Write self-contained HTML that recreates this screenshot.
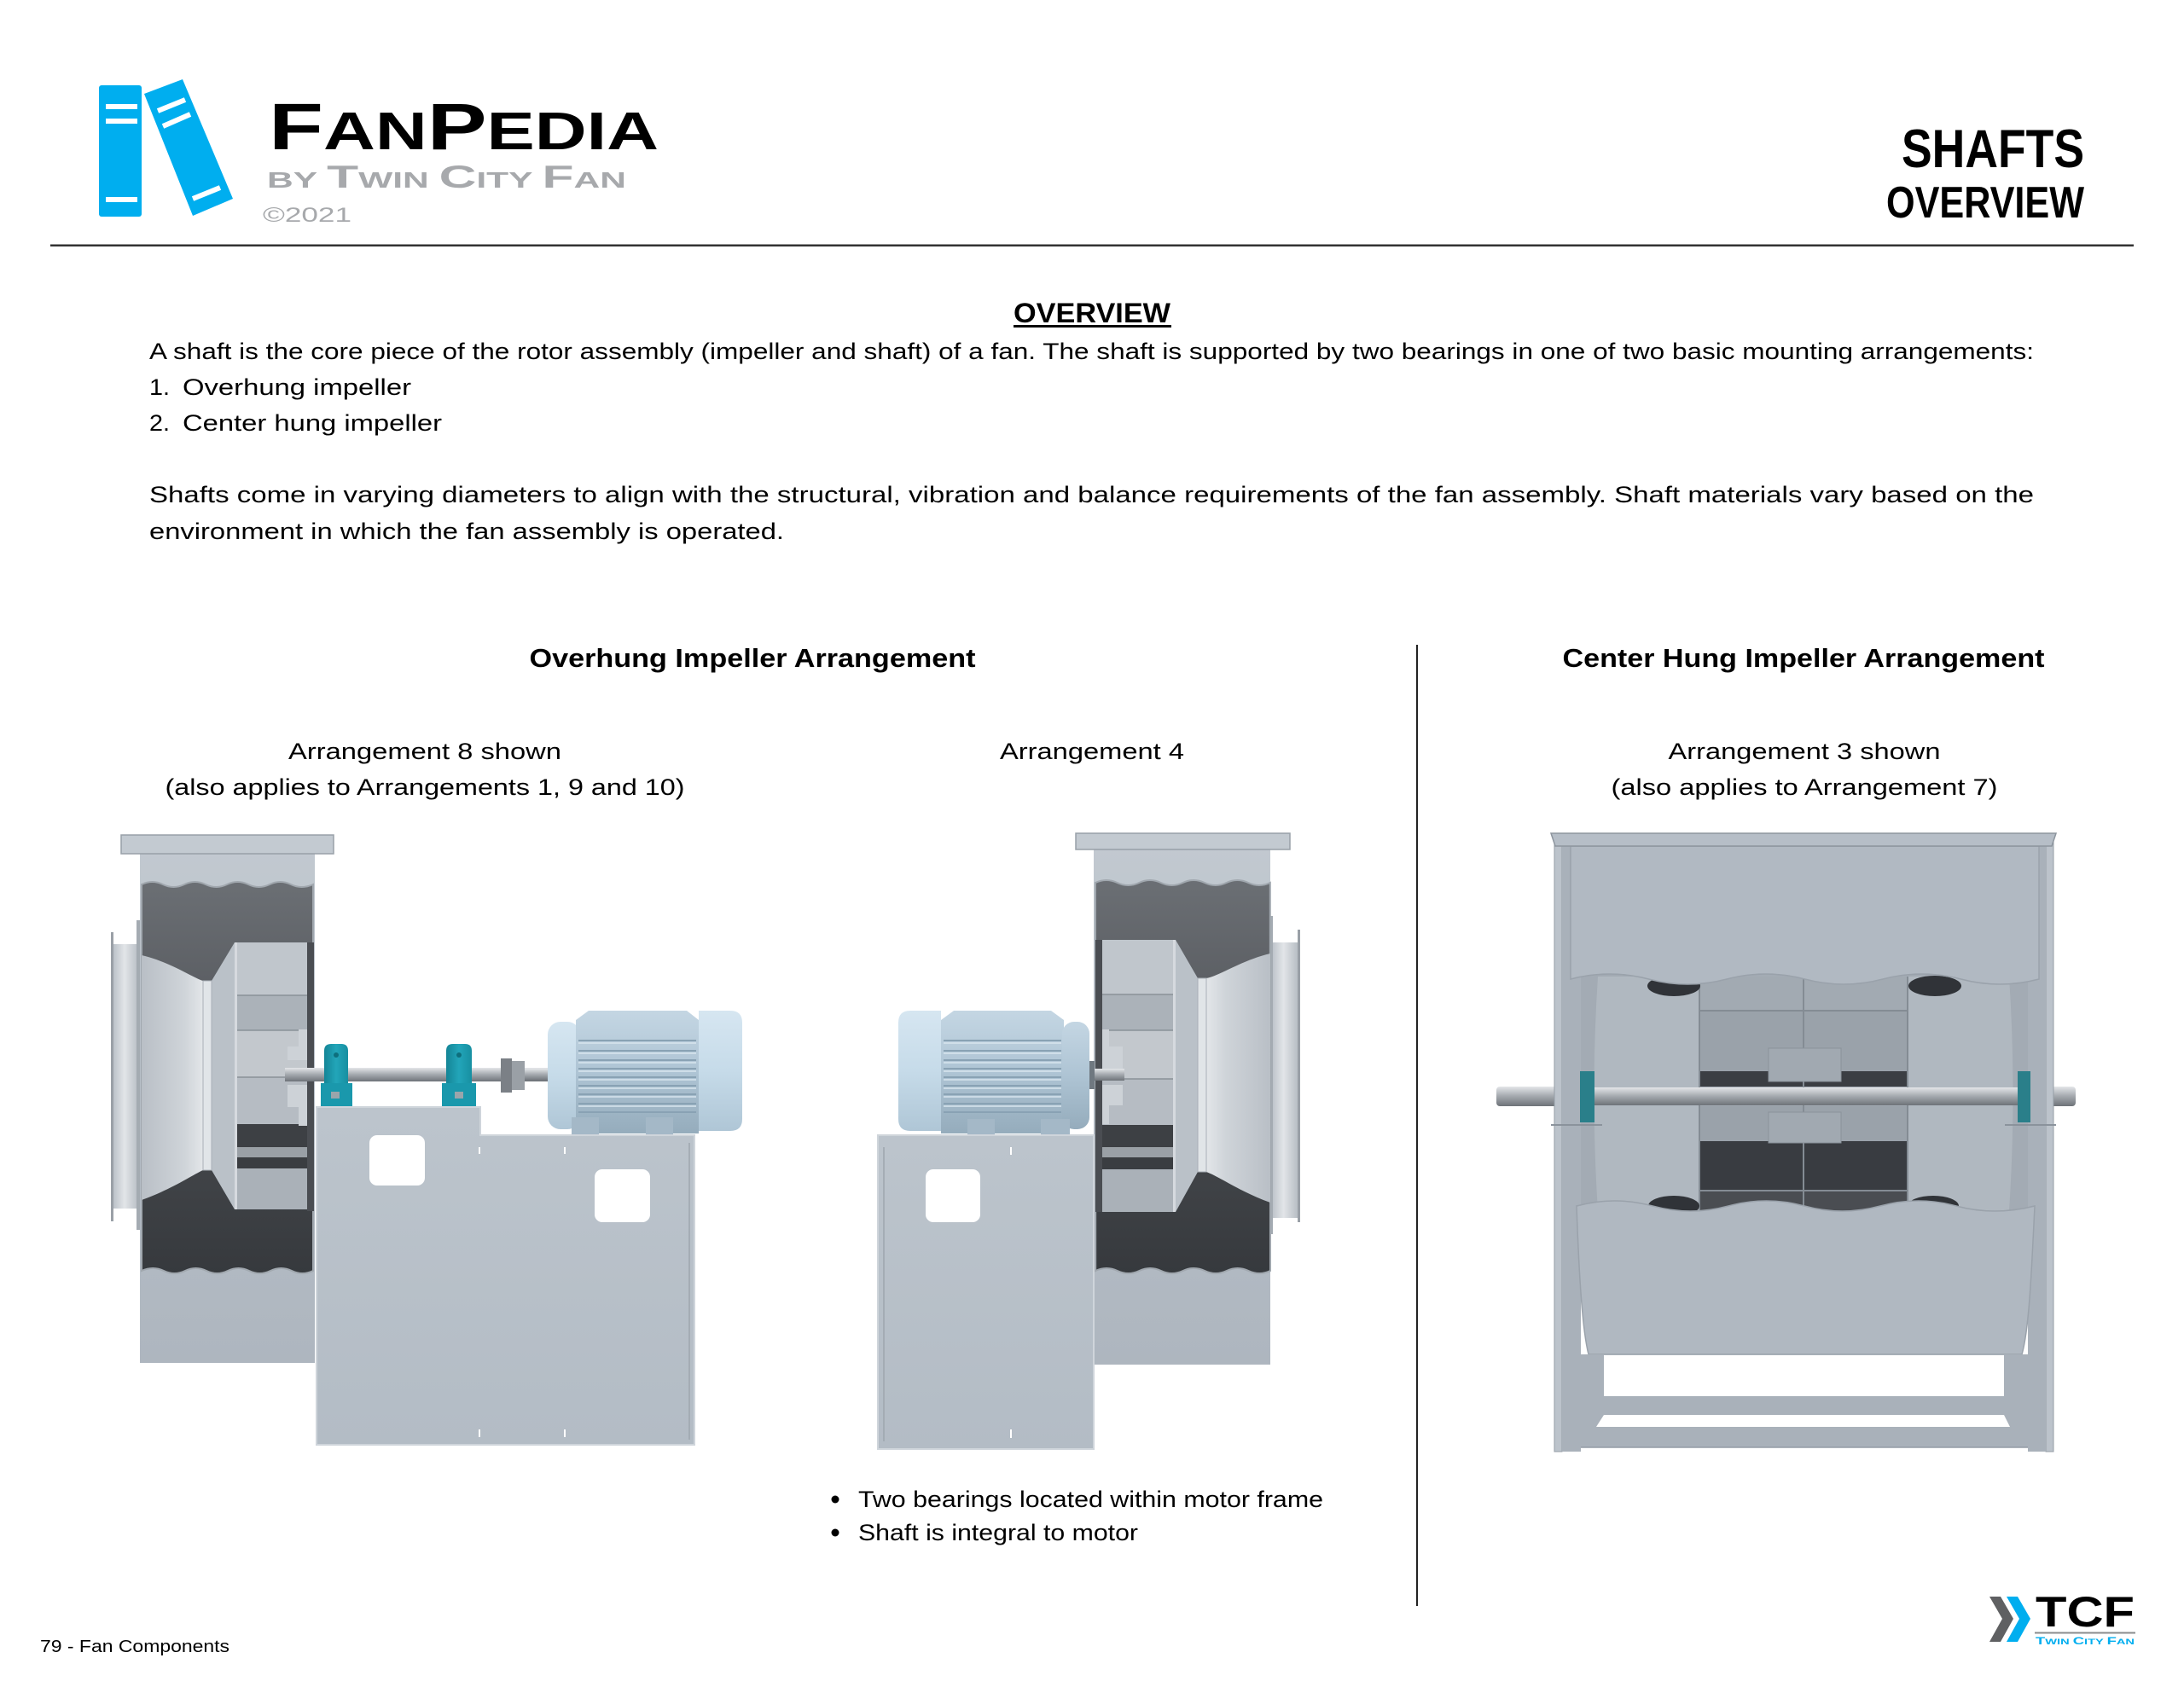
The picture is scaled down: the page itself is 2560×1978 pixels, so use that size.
<!DOCTYPE html>
<html><head><meta charset="utf-8">
<style>
html,body{margin:0;padding:0;background:#fff;}
svg{display:block;}
text{font-family:"Liberation Sans",Arial,sans-serif;}
</style></head>
<body>
<svg width="2560" height="1978" viewBox="0 0 2560 1978" xmlns="http://www.w3.org/2000/svg">
<defs>
 <linearGradient id="gHous" x1="0" y1="0" x2="0" y2="1">
  <stop offset="0" stop-color="#c2c9d0"/><stop offset="0.5" stop-color="#b6bec7"/><stop offset="1" stop-color="#aeb6bf"/>
 </linearGradient>
 <linearGradient id="gDark" x1="0" y1="0" x2="0" y2="1">
  <stop offset="0" stop-color="#6b6f74"/><stop offset="0.3" stop-color="#5a5d62"/><stop offset="0.65" stop-color="#44474b"/><stop offset="1" stop-color="#36393d"/>
 </linearGradient>
 <linearGradient id="gConeL" x1="0" y1="0" x2="1" y2="0">
  <stop offset="0" stop-color="#b9bfc6"/><stop offset="0.7" stop-color="#cfd4d9"/><stop offset="1" stop-color="#e3e6e9"/>
 </linearGradient>
 <linearGradient id="gConeR" x1="1" y1="0" x2="0" y2="0">
  <stop offset="0" stop-color="#b9bfc6"/><stop offset="0.7" stop-color="#cfd4d9"/><stop offset="1" stop-color="#e3e6e9"/>
 </linearGradient>
 <linearGradient id="gCyl" x1="0" y1="0" x2="1" y2="0">
  <stop offset="0" stop-color="#bcc2c9"/><stop offset="0.45" stop-color="#e2e5e8"/><stop offset="1" stop-color="#b8bec5"/>
 </linearGradient>
 <linearGradient id="gShaft" x1="0" y1="0" x2="0" y2="1">
  <stop offset="0" stop-color="#e4e6e9"/><stop offset="0.45" stop-color="#a9aeb3"/><stop offset="1" stop-color="#6e7379"/>
 </linearGradient>
 <linearGradient id="gMotor" x1="0" y1="0" x2="0" y2="1">
  <stop offset="0" stop-color="#c4d6e3"/><stop offset="0.5" stop-color="#aec4d4"/><stop offset="1" stop-color="#95acbc"/>
 </linearGradient>
 <linearGradient id="gCover" x1="0" y1="0" x2="0" y2="1">
  <stop offset="0" stop-color="#d6e6f1"/><stop offset="0.5" stop-color="#c6dbe9"/><stop offset="1" stop-color="#afc6d6"/>
 </linearGradient>
 <linearGradient id="gPed" x1="0" y1="0" x2="0" y2="1">
  <stop offset="0" stop-color="#bcc4cc"/><stop offset="1" stop-color="#b3bcc5"/>
 </linearGradient>
 <linearGradient id="gTeal" x1="0" y1="0" x2="1" y2="0">
  <stop offset="0" stop-color="#148596"/><stop offset="0.5" stop-color="#22a5b9"/><stop offset="1" stop-color="#178fa1"/>
 </linearGradient>
</defs>

<!-- ===== HEADER ===== -->
<rect x="116" y="100" width="50" height="154" rx="3" fill="#00aeef"/>
<rect x="124" y="122" width="37" height="6" fill="#fff"/>
<rect x="124" y="139" width="37" height="6" fill="#fff"/>
<rect x="124" y="231" width="37" height="6" fill="#fff"/>
<polygon points="169,110 214,93 273,233 226,253" fill="#00aeef"/>
<line x1="185" y1="130" x2="217" y2="117" stroke="#fff" stroke-width="6"/>
<line x1="191" y1="148" x2="223" y2="134" stroke="#fff" stroke-width="6"/>
<line x1="226" y1="233" x2="258" y2="220" stroke="#fff" stroke-width="6"/>

<text x="315" y="175" font-weight="bold" fill="#000" textLength="457" lengthAdjust="spacingAndGlyphs"><tspan font-size="77">F</tspan><tspan font-size="62">AN</tspan><tspan font-size="77">P</tspan><tspan font-size="62">EDIA</tspan></text>
<text x="313" y="220" font-weight="bold" fill="#a7a9ac" textLength="421" lengthAdjust="spacingAndGlyphs"><tspan font-size="26">BY </tspan><tspan font-size="37">T</tspan><tspan font-size="26">WIN </tspan><tspan font-size="37">C</tspan><tspan font-size="26">ITY </tspan><tspan font-size="37">F</tspan><tspan font-size="26">AN</tspan></text>
<text x="308" y="260" font-size="24" fill="#a7a9ac" textLength="104" lengthAdjust="spacingAndGlyphs">©2021</text>

<text x="2443" y="196" font-size="63" font-weight="bold" text-anchor="end" textLength="214" lengthAdjust="spacingAndGlyphs">SHAFTS</text>
<text x="2443" y="255" font-size="52" font-weight="bold" text-anchor="end" textLength="232" lengthAdjust="spacingAndGlyphs">OVERVIEW</text>

<rect x="59" y="286.5" width="2442" height="2.5" fill="#333"/>

<!-- ===== OVERVIEW TEXT ===== -->
<text x="1188" y="378" font-size="32" font-weight="bold" textLength="184" lengthAdjust="spacingAndGlyphs">OVERVIEW</text>
<rect x="1188" y="381" width="185" height="3" fill="#000"/>

<text x="175" y="421" font-size="27" textLength="2209" lengthAdjust="spacingAndGlyphs">A shaft is the core piece of the rotor assembly (impeller and shaft) of a fan. The shaft is supported by two bearings in one of two basic mounting arrangements:</text>
<text x="175" y="463" font-size="27" textLength="24" lengthAdjust="spacingAndGlyphs">1.</text>
<text x="214" y="463" font-size="27" textLength="268" lengthAdjust="spacingAndGlyphs">Overhung impeller</text>
<text x="175" y="505" font-size="27" textLength="24" lengthAdjust="spacingAndGlyphs">2.</text>
<text x="214" y="505" font-size="27" textLength="304" lengthAdjust="spacingAndGlyphs">Center hung impeller</text>
<text x="175" y="589" font-size="27" textLength="2209" lengthAdjust="spacingAndGlyphs">Shafts come in varying diameters to align with the structural, vibration and balance requirements of the fan assembly. Shaft materials vary based on the</text>
<text x="175" y="632" font-size="27" textLength="744" lengthAdjust="spacingAndGlyphs">environment in which the fan assembly is operated.</text>

<!-- ===== SECTION HEADINGS ===== -->
<text x="882" y="782" font-size="31" font-weight="bold" text-anchor="middle" textLength="523" lengthAdjust="spacingAndGlyphs">Overhung Impeller Arrangement</text>
<text x="2114" y="782" font-size="31" font-weight="bold" text-anchor="middle" textLength="565" lengthAdjust="spacingAndGlyphs">Center Hung Impeller Arrangement</text>

<text x="498" y="890" font-size="27" text-anchor="middle" textLength="320" lengthAdjust="spacingAndGlyphs">Arrangement 8 shown</text>
<text x="498" y="932" font-size="27" text-anchor="middle" textLength="609" lengthAdjust="spacingAndGlyphs">(also applies to Arrangements 1, 9 and 10)</text>
<text x="1280" y="890" font-size="27" text-anchor="middle" textLength="216" lengthAdjust="spacingAndGlyphs">Arrangement 4</text>
<text x="2115" y="890" font-size="27" text-anchor="middle" textLength="319" lengthAdjust="spacingAndGlyphs">Arrangement 3 shown</text>
<text x="2115" y="932" font-size="27" text-anchor="middle" textLength="453" lengthAdjust="spacingAndGlyphs">(also applies to Arrangement 7)</text>

<rect x="1660" y="756" width="2" height="1127" fill="#222"/>

<!-- ===== LEFT ILLUSTRATION (Arr 8) ===== -->
<g>
 <rect x="130" y="1093" width="3" height="339" fill="#9aa0a7"/>
 <rect x="133" y="1107" width="29" height="310" fill="url(#gCyl)"/>
 <rect x="160" y="1079" width="5" height="363" fill="#a4abb2"/>
 <rect x="164" y="991" width="205" height="607" fill="url(#gHous)"/>
 <rect x="142" y="979" width="249" height="22" fill="#c3cad1" stroke="#98a0a8" stroke-width="1.5"/>
 <path d="M166,1037 q12.5,-6 25,0 t25,0 t25,0 t25,0 t25,0 t25,0 t25,0 t26,0 L367,1490 q-12.5,6 -25,0 t-25,0 t-25,0 t-25,0 t-25,0 t-25,0 t-25,0 t-26,0 Z" fill="url(#gDark)" stroke="#a0a7ae" stroke-width="2"/>
 <!-- cone -->
 <path d="M166,1120 C200,1128 225,1146 238,1150 L238,1372 C225,1378 200,1395 166,1407 Z" fill="url(#gConeL)"/>
 <path d="M248,1150 L275,1105 L275,1418 L248,1372 Z" fill="#bac1c8"/>
 <rect x="238" y="1150" width="10" height="222" fill="#e1e5e8" stroke="#a9b0b7" stroke-width="1"/>
 <!-- impeller -->
 <rect x="360" y="1105" width="8" height="315" fill="#4a4d52"/>
 <rect x="275" y="1105" width="85" height="62" fill="#c0c6cc"/>
 <rect x="275" y="1167" width="85" height="41" fill="#abb2b9"/>
 <rect x="275" y="1208" width="85" height="55" fill="#c3c8cd"/>
 <rect x="275" y="1263" width="85" height="55" fill="#b6bcc3"/>
 <rect x="275" y="1318" width="85" height="27" fill="#3d4044"/>
 <rect x="275" y="1345" width="85" height="12" fill="#9aa0a6"/>
 <rect x="275" y="1357" width="85" height="13" fill="#3a3d41"/>
 <rect x="275" y="1370" width="85" height="48" fill="#aab1b8"/>
 <g stroke="#8a9198" stroke-width="1.5">
  <line x1="275" y1="1167" x2="360" y2="1167"/><line x1="275" y1="1208" x2="360" y2="1208"/>
  <line x1="275" y1="1263" x2="360" y2="1263"/>
 </g>
 <rect x="275" y="1105" width="3" height="313" fill="#d6dadf"/>
 <rect x="350" y="1207" width="10" height="20" fill="#cdd2d7"/>
 <rect x="337" y="1227" width="23" height="16" fill="#cdd2d7"/>
 <rect x="337" y="1272" width="23" height="26" fill="#cdd2d7"/>
 <rect x="350" y="1298" width="10" height="22" fill="#cdd2d7"/>
 <!-- shaft -->
 <rect x="334" y="1252" width="311" height="16" fill="url(#gShaft)"/>
 <!-- bearings -->
 <g>
  <path d="M380,1272 L380,1232 Q380,1224 388,1224 L400,1224 Q408,1224 408,1232 L408,1272 Z" fill="url(#gTeal)"/>
  <rect x="376" y="1270" width="37" height="28" fill="#1a98ac"/>
  <circle cx="394" cy="1237" r="3" fill="#0e6f7d"/>
  <rect x="388" y="1280" width="10" height="8" fill="#9aa5ab"/>
  <path d="M523,1272 L523,1232 Q523,1224 531,1224 L545,1224 Q553,1224 553,1232 L553,1272 Z" fill="url(#gTeal)"/>
  <rect x="518" y="1270" width="40" height="28" fill="#1a98ac"/>
  <circle cx="538" cy="1237" r="3" fill="#0e6f7d"/>
  <rect x="533" y="1280" width="10" height="8" fill="#9aa5ab"/>
 </g>
 <!-- coupling -->
 <rect x="587" y="1241" width="13" height="40" fill="#7b8086"/>
 <rect x="600" y="1244" width="15" height="34" fill="#9aa0a6"/>
 <rect x="615" y="1253" width="28" height="14" fill="url(#gShaft)"/>
 <!-- motor -->
 <rect x="642" y="1198" width="38" height="126" rx="15" fill="url(#gCover)"/>
 <path d="M675,1196 L690,1185 L805,1185 L819,1196 L819,1329 L675,1329 Z" fill="url(#gMotor)"/>
 <g stroke="#89a2b4" stroke-width="2">
  <line x1="678" y1="1220" x2="816" y2="1220"/><line x1="678" y1="1232" x2="816" y2="1232"/>
  <line x1="678" y1="1243" x2="816" y2="1243"/><line x1="678" y1="1253" x2="816" y2="1253"/>
  <line x1="678" y1="1263" x2="816" y2="1263"/><line x1="678" y1="1273" x2="816" y2="1273"/>
  <line x1="678" y1="1283" x2="816" y2="1283"/><line x1="678" y1="1294" x2="816" y2="1294"/>
  <line x1="678" y1="1304" x2="816" y2="1304"/>
 </g>
 <g stroke="#d8e5ee" stroke-width="1.5">
  <line x1="678" y1="1223" x2="816" y2="1223"/><line x1="678" y1="1235" x2="816" y2="1235"/>
  <line x1="678" y1="1246" x2="816" y2="1246"/><line x1="678" y1="1256" x2="816" y2="1256"/>
  <line x1="678" y1="1266" x2="816" y2="1266"/><line x1="678" y1="1276" x2="816" y2="1276"/>
  <line x1="678" y1="1286" x2="816" y2="1286"/><line x1="678" y1="1297" x2="816" y2="1297"/>
 </g>
 <path d="M819,1185 L856,1185 Q870,1185 870,1199 L870,1312 Q870,1326 856,1326 L819,1326 Z" fill="url(#gCover)"/>
 <rect x="670" y="1310" width="32" height="21" fill="#a4b8c7"/>
 <rect x="757" y="1310" width="32" height="21" fill="#a4b8c7"/>
 <!-- pedestal -->
 <path d="M371,1298 L563,1298 L563,1331 L814,1331 L814,1694 L371,1694 Z" fill="url(#gPed)" stroke="#cfd5db" stroke-width="2"/>
 <rect x="433" y="1331" width="65" height="59" rx="9" fill="#fff"/>
 <rect x="697" y="1371" width="65" height="62" rx="9" fill="#fff"/>
 <g fill="#fff"><rect x="561" y="1345" width="2" height="8"/><rect x="661" y="1345" width="2" height="8"/><rect x="561" y="1676" width="2" height="9"/><rect x="661" y="1676" width="2" height="9"/></g>
 <line x1="808" y1="1340" x2="808" y2="1688" stroke="#9ea6ae" stroke-width="1.5"/>
</g>

<!-- ===== MIDDLE ILLUSTRATION (Arr 4) ===== -->
<g>
 <rect x="1521" y="1090" width="3" height="343" fill="#9aa0a7"/>
 <rect x="1491" y="1105" width="30" height="323" fill="url(#gCyl)"/>
 <rect x="1487" y="1074" width="5" height="373" fill="#a4abb2"/>
 <rect x="1282" y="989" width="207" height="611" fill="url(#gHous)"/>
 <rect x="1261" y="977" width="251" height="19" fill="#c3cad1" stroke="#98a0a8" stroke-width="1.5"/>
 <path d="M1284,1035 q12.8,-6 25.6,0 t25.6,0 t25.6,0 t25.6,0 t25.6,0 t25.6,0 t25.6,0 t25.6,0 L1489,1490 q-12.8,6 -25.6,0 t-25.6,0 t-25.6,0 t-25.6,0 t-25.6,0 t-25.6,0 t-25.6,0 t-25.6,0 Z" fill="url(#gDark)" stroke="#a0a7ae" stroke-width="2"/>
 <path d="M1489,1118 C1455,1126 1430,1144 1414,1147 L1414,1374 C1430,1380 1455,1398 1489,1410 Z" fill="url(#gConeR)"/>
 <path d="M1404,1147 L1378,1102 L1378,1421 L1404,1374 Z" fill="#bac1c8"/>
 <rect x="1404" y="1147" width="10" height="227" fill="#e1e5e8" stroke="#a9b0b7" stroke-width="1"/>
 <rect x="1284" y="1102" width="8" height="319" fill="#4a4d52"/>
 <rect x="1292" y="1102" width="86" height="64" fill="#c0c6cc"/>
 <rect x="1292" y="1166" width="86" height="42" fill="#abb2b9"/>
 <rect x="1292" y="1208" width="86" height="57" fill="#c3c8cd"/>
 <rect x="1292" y="1265" width="86" height="54" fill="#b6bcc3"/>
 <rect x="1292" y="1319" width="86" height="26" fill="#3d4044"/>
 <rect x="1292" y="1345" width="86" height="12" fill="#9aa0a6"/>
 <rect x="1292" y="1357" width="86" height="14" fill="#3a3d41"/>
 <rect x="1292" y="1371" width="86" height="50" fill="#aab1b8"/>
 <g stroke="#8a9198" stroke-width="1.5">
  <line x1="1292" y1="1166" x2="1378" y2="1166"/><line x1="1292" y1="1208" x2="1378" y2="1208"/>
  <line x1="1292" y1="1265" x2="1378" y2="1265"/>
 </g>
 <rect x="1375" y="1102" width="3" height="319" fill="#d6dadf"/>
 <rect x="1292" y="1207" width="8" height="20" fill="#cdd2d7"/>
 <rect x="1292" y="1227" width="24" height="26" fill="#cdd2d7"/>
 <rect x="1292" y="1272" width="24" height="24" fill="#cdd2d7"/>
 <rect x="1292" y="1296" width="8" height="22" fill="#cdd2d7"/>
 <rect x="1276" y="1253" width="42" height="14" fill="url(#gShaft)"/>
 <rect x="1276" y="1244" width="7" height="33" fill="#6f7880"/>
 <!-- motor -->
 <path d="M1103,1185 L1067,1185 Q1053,1185 1053,1199 L1053,1312 Q1053,1326 1067,1326 L1103,1326 Z" fill="url(#gCover)"/>
 <path d="M1103,1196 L1118,1185 L1232,1185 L1247,1196 L1247,1329 L1103,1329 Z" fill="url(#gMotor)"/>
 <g stroke="#89a2b4" stroke-width="2">
  <line x1="1106" y1="1220" x2="1244" y2="1220"/><line x1="1106" y1="1232" x2="1244" y2="1232"/>
  <line x1="1106" y1="1243" x2="1244" y2="1243"/><line x1="1106" y1="1253" x2="1244" y2="1253"/>
  <line x1="1106" y1="1263" x2="1244" y2="1263"/><line x1="1106" y1="1273" x2="1244" y2="1273"/>
  <line x1="1106" y1="1283" x2="1244" y2="1283"/><line x1="1106" y1="1294" x2="1244" y2="1294"/>
  <line x1="1106" y1="1304" x2="1244" y2="1304"/>
 </g>
 <g stroke="#d8e5ee" stroke-width="1.5">
  <line x1="1106" y1="1223" x2="1244" y2="1223"/><line x1="1106" y1="1235" x2="1244" y2="1235"/>
  <line x1="1106" y1="1246" x2="1244" y2="1246"/><line x1="1106" y1="1256" x2="1244" y2="1256"/>
  <line x1="1106" y1="1266" x2="1244" y2="1266"/><line x1="1106" y1="1276" x2="1244" y2="1276"/>
  <line x1="1106" y1="1286" x2="1244" y2="1286"/><line x1="1106" y1="1297" x2="1244" y2="1297"/>
 </g>
 <rect x="1245" y="1198" width="32" height="126" rx="14" fill="url(#gMotor)"/>
 <rect x="1134" y="1312" width="32" height="19" fill="#a4b8c7"/>
 <rect x="1220" y="1312" width="34" height="19" fill="#a4b8c7"/>
 <!-- pedestal -->
 <rect x="1029" y="1331" width="253" height="368" fill="url(#gPed)" stroke="#cfd5db" stroke-width="2"/>
 <line x1="1036" y1="1345" x2="1036" y2="1690" stroke="#9ea6ae" stroke-width="1.5"/>
 <rect x="1085" y="1371" width="64" height="62" rx="9" fill="#fff"/>
 <g fill="#fff"><rect x="1184" y="1345" width="2" height="9"/><rect x="1184" y="1676" width="2" height="10"/></g>
</g>

<!-- ===== RIGHT ILLUSTRATION (Arr 3) ===== -->
<g>
 <rect x="1754" y="1274" width="679" height="23" rx="4" fill="url(#gShaft)"/>
 <!-- posts and side bands -->
 <rect x="1822" y="979" width="9" height="723" fill="#bcc3cb" stroke="#959da6" stroke-width="1"/>
 <rect x="2398" y="979" width="9" height="723" fill="#bcc3cb" stroke="#959da6" stroke-width="1"/>
 <rect x="1831" y="992" width="22" height="710" fill="#a9b1ba"/>
 <rect x="2377" y="992" width="21" height="710" fill="#a9b1ba"/>
 <!-- middle background -->
 <rect x="1853" y="1140" width="524" height="285" fill="#a3abb4"/>
 <path d="M1873,1145 L1992,1145 L1992,1420 L1873,1420 Q1864,1282 1873,1145 Z" fill="#b0b8c0"/>
 <path d="M2355,1145 L2236,1145 L2236,1420 L2355,1420 Q2364,1282 2355,1145 Z" fill="#b0b8c0"/>
 <!-- centre blades -->
 <rect x="1992" y="1145" width="244" height="40" fill="#a2aab2"/>
 <rect x="1992" y="1185" width="244" height="71" fill="#9aa2aa"/>
 <rect x="1992" y="1256" width="244" height="18" fill="#3b3e43"/>
 <rect x="1992" y="1297" width="244" height="41" fill="#9aa2aa"/>
 <rect x="1992" y="1338" width="244" height="58" fill="#393c41"/>
 <rect x="1992" y="1396" width="244" height="24" fill="#4a4d52"/>
 <g stroke="#848c94" stroke-width="2">
  <line x1="1992" y1="1145" x2="1992" y2="1420"/><line x1="2236" y1="1145" x2="2236" y2="1420"/>
  <line x1="2114" y1="1145" x2="2114" y2="1420"/><line x1="1992" y1="1185" x2="2236" y2="1185"/>
  <line x1="1992" y1="1396" x2="2236" y2="1396"/>
 </g>
 <rect x="2073" y="1229" width="85" height="39" fill="#a1a9b1" stroke="#8b939b" stroke-width="1"/>
 <rect x="2073" y="1304" width="85" height="36" fill="#a1a9b1" stroke="#8b939b" stroke-width="1"/>
 <!-- dark lenses -->
 <ellipse cx="1962" cy="1156" rx="31" ry="12" fill="#303338"/>
 <ellipse cx="2268" cy="1156" rx="31" ry="12" fill="#303338"/>
 <ellipse cx="1962" cy="1414" rx="30" ry="12" fill="#303338"/>
 <ellipse cx="2266" cy="1414" rx="30" ry="12" fill="#303338"/>
 <!-- shaft front -->
 <rect x="1853" y="1275" width="524" height="21" fill="url(#gShaft)"/>
 <!-- bearings -->
 <rect x="1852" y="1256" width="17" height="60" fill="#2a7f8a"/>
 <rect x="2365" y="1256" width="15" height="60" fill="#2a7f8a"/>
 <line x1="1818" y1="1319" x2="1878" y2="1319" stroke="#8b939c" stroke-width="2"/>
 <line x1="2350" y1="1319" x2="2410" y2="1319" stroke="#8b939c" stroke-width="2"/>
 <!-- top panel -->
 <path d="M1841,992 L2390,992 L2390,1148 q-45.75,12 -91.5,0 t-91.5,0 t-91.5,0 t-91.5,0 t-91.5,0 t-91.5,0 Z" fill="#b1b9c2" stroke="#9aa2ab" stroke-width="1.5"/>
 <path d="M1818,977 L2410,977 L2405,992 L1823,992 Z" fill="#b6bec7" stroke="#8d959e" stroke-width="1.5"/>
 <!-- bottom panel -->
 <path d="M1848,1414 q44.5,-12 89,0 t89,0 t89,0 t89,0 t89,0 t92,0 C2381,1500 2378,1560 2370,1588 L1862,1588 C1855,1560 1851,1500 1848,1414 Z" fill="#b0b8c1" stroke="#9aa2ab" stroke-width="1.5"/>
 <!-- base -->
 <rect x="1853" y="1588" width="524" height="109" fill="#a9b1ba"/>
 <rect x="1880" y="1589" width="469" height="48" fill="#fff"/>
 <path d="M1871,1673 L1880,1659 L2349,1659 L2356,1673 Z" fill="#fff"/>
 <line x1="1853" y1="1697" x2="2377" y2="1697" stroke="#949ca5" stroke-width="1.5"/>
</g>

<!-- ===== BULLETS ===== -->
<circle cx="979" cy="1758" r="4.5" fill="#000"/>
<circle cx="979" cy="1797" r="4.5" fill="#000"/>
<text x="1006" y="1767" font-size="27" textLength="545" lengthAdjust="spacingAndGlyphs">Two bearings located within motor frame</text>
<text x="1006" y="1806" font-size="27" textLength="328" lengthAdjust="spacingAndGlyphs">Shaft is integral to motor</text>

<!-- ===== FOOTER ===== -->
<text x="47" y="1937" font-size="20" textLength="222" lengthAdjust="spacingAndGlyphs">79 - Fan Components</text>

<polygon points="2332,1872 2345,1872 2360,1898 2345,1925 2332,1925 2347,1898" fill="#5f6062"/>
<polygon points="2352,1872 2365,1872 2380,1898 2365,1925 2352,1925 2367,1898" fill="#00aeef"/>
<text x="2386" y="1907" font-size="50" font-weight="bold" textLength="116" lengthAdjust="spacingAndGlyphs">TCF</text>
<rect x="2385" y="1913.5" width="118" height="2" fill="#8a8c8e"/>
<text x="2386" y="1928" font-weight="bold" fill="#00aeef" textLength="116" lengthAdjust="spacingAndGlyphs"><tspan font-size="12">T</tspan><tspan font-size="9.5">WIN </tspan><tspan font-size="12">C</tspan><tspan font-size="9.5">ITY </tspan><tspan font-size="12">F</tspan><tspan font-size="9.5">AN</tspan></text>
</svg>
</body></html>
